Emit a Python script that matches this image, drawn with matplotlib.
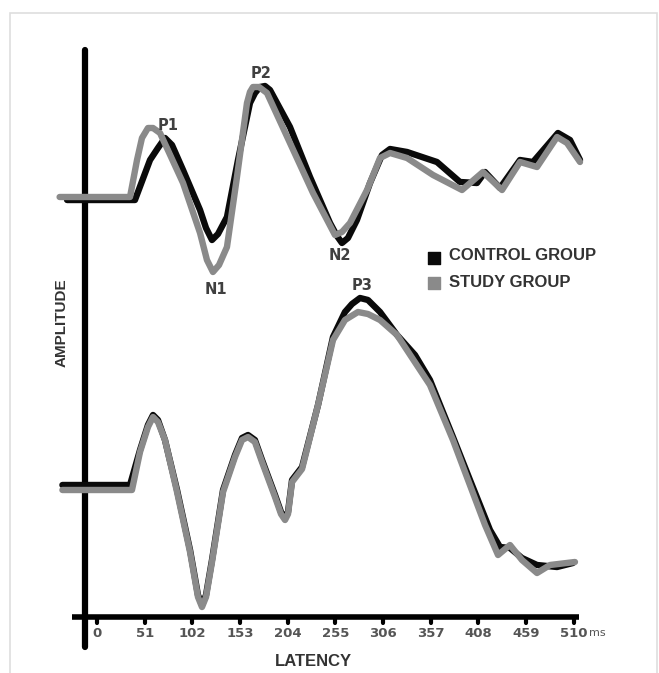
import matplotlib.pyplot as plt
from matplotlib.patches import Rectangle

# latency (ms) and amplitude (arbitrary units)
top_control_ms = [-32, 40.6, 56.7, 65.2, 72.7, 80.2, 92, 110.2, 116.6, 123, 129.4, 139, 150.8,
                  163.6, 169, 174.3, 179.7, 185, 206.4, 227.8, 249.2, 256.7, 262, 268.4, 278,
                  292, 304.8, 313.4, 331.6, 363.6, 388.2, 406.4, 415, 431, 452.4, 466.3, 493,
                  505.9, 516.6]
top_control_amp = [-0.1, -0.1, 3.9, 5.1, 6.1, 5.4, 2.9, -1.1, -2.9, -4.1, -3.5, -1.8, 3.9,
                   9.6, 10.6, 11.2, 11.3, 10.9, 7.2, 2.2, -2.4, -3.7, -4.4, -3.9, -2.1,
                   1.6, 4.4, 5.0, 4.7, 3.7, 1.7, 1.6, 2.7, 1.1, 3.9, 3.7, 6.6,
                   5.9, 3.9]

top_study_ms = [-40, 35.3, 42.8, 48.1, 54.5, 59.9, 67.4, 92, 110.2, 117.6, 124, 130.5, 139,
                149.7, 160.4, 163.6, 166.8, 173.3, 181.8, 206.4, 231, 254.5, 262, 270.6,
                288.8, 302.7, 313.4, 331.6, 359.4, 390.4, 412.8, 433.2, 452.4, 470.6, 492,
                502.7, 516.6]
top_study_amp = [0.2, 0.2, 3.9, 6.1, 7.1, 7.1, 6.6, 1.6, -3.4, -6.1, -7.3, -6.6, -4.8,
                 2.2, 9.6, 10.7, 11.2, 11.2, 10.6, 5.6, 0.6, -3.6, -3.3, -2.4,
                 0.9, 4.1, 4.6, 4.1, 2.4, 0.9, 2.7, 0.9, 3.7, 3.2, 6.2,
                 5.6, 3.7]

bot_control_ms = [-37, 35.3, 46, 54.5, 59.9, 65.2, 72.7, 85.6, 99.5, 108, 112.3, 116.6, 123,
                  134.8, 147.6, 155.1, 161.5, 168.9, 176.5, 190.4, 196.8, 201.1, 204.3, 208.6,
                  219.3, 236.4, 252.4, 265.2, 272.7, 281.3, 289.8, 302.7, 320.9, 340.1, 356.1,
                  380.7, 398.9, 420.3, 431, 441.7, 454.5, 470.6, 492, 509]
bot_control_amp = [0.2, 0.2, 3.7, 6.2, 7.2, 6.7, 4.7, -0.3, -6.3, -10.8, -11.8, -10.8, -7.3,
                   -0.3, 3.2, 4.9, 5.2, 4.7, 2.7, -0.8, -2.5, -3.1, -2.5, 0.7,
                   2.0, 8.2, 15.0, 17.5, 18.3, 18.9, 18.7, 17.5, 15.2, 13.2, 10.7,
                   5.0, 0.7, -4.3, -6.0, -6.1, -7.1, -7.8, -8.0, -7.6]

bot_study_ms = [-37, 37.4, 46, 54.5, 59.9, 65.2, 72.7, 85.6, 99.5, 108, 112.3, 116.6, 123,
                134.8, 147.6, 155.1, 161.5, 168.9, 176.5, 190.4, 196.8, 201.1, 204.3, 208.6,
                219.3, 236.4, 252.4, 265.2, 279.1, 289.8, 302.7, 320.9, 356.1, 380.7, 396.8,
                415, 428.9, 441.7, 454.5, 470.6, 484.5, 511.2]
bot_study_amp = [-0.3, -0.3, 3.5, 6.0, 7.0, 6.5, 4.7, -0.5, -6.5, -11.0, -12.0, -11.0, -7.5,
                 -0.5, 3.0, 4.7, 5.0, 4.5, 2.5, -1.0, -2.7, -3.3, -2.7, 0.5,
                 1.8, 8.2, 14.7, 16.7, 17.5, 17.3, 16.7, 15.2, 10.2, 4.7, 0.7,
                 -3.8, -6.8, -5.8, -7.3, -8.6, -7.8, -7.5]

tick_ms = [0, 51, 102, 153, 204, 255, 306, 357, 408, 459, 510]
peak_names = ["P1", "N1", "P2", "N2", "P3"]
peak_ms = [76, 127, 176, 260, 284]
peak_amp = [7.4, -9.1, 12.6, -5.6, 20.2]
peak_trace = ["top", "top", "top", "top", "bottom"]

BLACK = "#0a0a0a"
GREY = "#8a8a8a"
TEXT = "#333333"
TOP_OFF = 47.4
BOT_OFF = 18.6
AXIS_Y = 5.6
AXIS_X = -12.8


def px_to_ms(px):
    return (px - 97) / 0.935


def py_to_y(py):
    return 67.3 - py / 10


fig = plt.figure(figsize=(6.59, 6.73), dpi=100)
fig.patches.append(Rectangle((10 / 659, -0.01), 647 / 659, 1 - 13 / 673 + 0.01,
                             transform=fig.transFigure, fill=False,
                             edgecolor="#dedede", linewidth=1.2))
ax = fig.add_axes([0, 0, 1, 1])
ax.set_xlim(px_to_ms(0), px_to_ms(659))
ax.set_ylim(0, 67.3)
ax.axis("off")

# axes drawn by hand like the original
ax.plot([AXIS_X, AXIS_X], [62.3, 2.6], color="black", lw=4.5, solid_capstyle="round")
ax.plot([-26.7, 515.5], [AXIS_Y, AXIS_Y], color="black", lw=4.0, solid_capstyle="butt")
for t in tick_ms:
    ax.plot([t, t], [AXIS_Y, 5.0], color="black", lw=3.0, solid_capstyle="round")
    ax.text(t, 3.95, str(t), ha="center", va="center", fontsize=9.5,
            fontweight="bold", color="#555555", family="DejaVu Sans")
ax.text(534.8, 3.95, "ms", ha="center", va="center", fontsize=8, color="#555555")

lw = 4.6
style = dict(lw=lw, solid_joinstyle="round", solid_capstyle="round")
ax.plot(top_control_ms, [a + TOP_OFF for a in top_control_amp], color=BLACK, **style)
ax.plot(top_study_ms, [a + TOP_OFF for a in top_study_amp], color=GREY, **style)
ax.plot(bot_control_ms, [a + BOT_OFF for a in bot_control_amp], color=BLACK, **style)
ax.plot(bot_study_ms, [a + BOT_OFF for a in bot_study_amp], color=GREY, **style)

for name, t, a, tr in zip(peak_names, peak_ms, peak_amp, peak_trace):
    off = TOP_OFF if tr == "top" else BOT_OFF
    ax.text(t, a + off, name, ha="center", va="center", fontsize=10.5,
            fontweight="bold", color="#404040")

# legend
ax.scatter([px_to_ms(433.5)], [py_to_y(257.5)], marker="s", s=85, color=BLACK)
ax.scatter([px_to_ms(433.5)], [py_to_y(282.5)], marker="s", s=85, color=GREY)
ax.text(px_to_ms(449), py_to_y(255), "CONTROL GROUP", ha="left", va="center",
        fontsize=12, fontweight="bold", color=TEXT, family="Liberation Sans")
ax.text(px_to_ms(449), py_to_y(282), "STUDY GROUP", ha="left", va="center",
        fontsize=12, fontweight="bold", color=TEXT, family="Liberation Sans")

ax.text(px_to_ms(62), py_to_y(323), "AMPLITUDE", rotation=90, ha="center", va="center",
        fontsize=11, fontweight="bold", color=TEXT, family="Liberation Sans")
ax.text(px_to_ms(313), py_to_y(662), "LATENCY", ha="center", va="center",
        fontsize=12, fontweight="bold", color=TEXT, family="Liberation Sans")

fig.savefig("out.png", dpi=100)
